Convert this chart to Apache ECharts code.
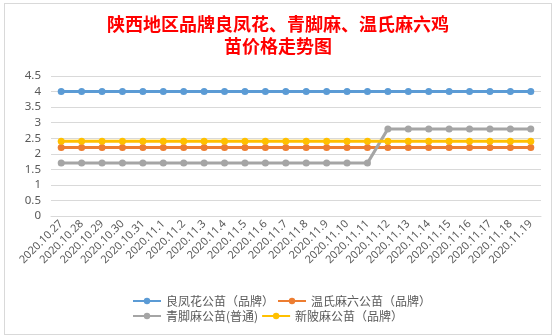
<!DOCTYPE html>
<html>
<head>
<meta charset="utf-8">
<script src="https://cdn.jsdelivr.net/npm/echarts@6/dist/echarts.min.js"></script>
<style>
  html, body { margin: 0; padding: 0; background: #fff; }
  #wrap { position: relative; width: 559px; height: 336px; overflow: hidden; background: #fff; }
  #main { position: absolute; left: 4px; top: 3px; width: 546px; height: 330px; border: 1px solid #d9d9d9; background: #fff; }
</style>
</head>
<body>
<div id="wrap"><div id="main"></div></div>
<script>
  const dates = [
    '2020.10.27', '2020.10.28', '2020.10.29', '2020.10.30', '2020.10.31',
    '2020.11.1', '2020.11.2', '2020.11.3', '2020.11.4', '2020.11.5', '2020.11.6',
    '2020.11.7', '2020.11.8', '2020.11.9', '2020.11.10', '2020.11.11', '2020.11.12',
    '2020.11.13', '2020.11.14', '2020.11.15', '2020.11.16', '2020.11.17', '2020.11.18', '2020.11.19'
  ];
  const seriesNames = ['良凤花公苗（品牌）', '温氏麻六公苗（品牌）', '青脚麻公苗(普通)', '新陂麻公苗（品牌）'];
  const liangfenghua = [4, 4, 4, 4, 4, 4, 4, 4, 4, 4, 4, 4, 4, 4, 4, 4, 4, 4, 4, 4, 4, 4, 4, 4];
  const wenshi = [2.2, 2.2, 2.2, 2.2, 2.2, 2.2, 2.2, 2.2, 2.2, 2.2, 2.2, 2.2, 2.2, 2.2, 2.2, 2.2, 2.2, 2.2, 2.2, 2.2, 2.2, 2.2, 2.2, 2.2];
  const qingjiaoma = [1.7, 1.7, 1.7, 1.7, 1.7, 1.7, 1.7, 1.7, 1.7, 1.7, 1.7, 1.7, 1.7, 1.7, 1.7, 1.7, 2.8, 2.8, 2.8, 2.8, 2.8, 2.8, 2.8, 2.8];
  const xinpoma = [2.4, 2.4, 2.4, 2.4, 2.4, 2.4, 2.4, 2.4, 2.4, 2.4, 2.4, 2.4, 2.4, 2.4, 2.4, 2.4, 2.4, 2.4, 2.4, 2.4, 2.4, 2.4, 2.4, 2.4];
  const colors = ['#5b9bd5', '#ed7d31', '#a5a5a5', '#ffc000'];

  const myChart = echarts.init(document.getElementById('main'));
  const makeLine = function (name, data, color) {
    return {
      name: name,
      type: 'line',
      data: data,
      symbol: 'circle',
      symbolSize: 7,
      lineStyle: { width: 3, color: color },
      itemStyle: { color: color },
      animation: false
    };
  };
  const option = {
    title: {
      text: '陕西地区品牌良凤花、青脚麻、温氏麻六鸡\n苗价格走势图',
      left: 'center',
      top: 4,
      textStyle: {
        color: '#ff0000',
        fontSize: 18,
        fontWeight: 'bold',
        lineHeight: 22,
        fontFamily: 'Noto Sans CJK SC'
      }
    },
    legend: {
      data: [seriesNames[0], seriesNames[1], seriesNames[2], seriesNames[3]],
      left: 122,
      top: 286,
      width: 330,
      itemWidth: 28,
      itemHeight: 8,
      itemGap: 3,
      textStyle: { color: '#595959', fontSize: 12, width: 122, fontFamily: 'Noto Sans CJK SC' }
    },
    grid: {
      left: 46,
      right: 10,
      top: 72,
      bottom: 118
    },
    xAxis: {
      type: 'category',
      data: dates,
      boundaryGap: true,
      axisLine: { lineStyle: { color: '#d9d9d9' } },
      axisTick: { show: false },
      axisLabel: {
        rotate: 45,
        interval: 0,
        color: '#595959',
        fontSize: 11,
        margin: 6,
        fontFamily: 'Noto Sans'
      }
    },
    yAxis: {
      type: 'value',
      min: 0,
      max: 4.5,
      interval: 0.5,
      axisLine: { show: false },
      axisTick: { show: false },
      splitLine: { lineStyle: { color: '#d9d9d9' } },
      axisLabel: { color: '#595959', fontSize: 11.5, margin: 10, fontFamily: 'Noto Sans' }
    },
    series: [
      makeLine(seriesNames[0], liangfenghua, colors[0]),
      makeLine(seriesNames[1], wenshi, colors[1]),
      makeLine(seriesNames[2], qingjiaoma, colors[2]),
      makeLine(seriesNames[3], xinpoma, colors[3])
    ]
  };
  myChart.setOption(option);
</script>
</body>
</html>
